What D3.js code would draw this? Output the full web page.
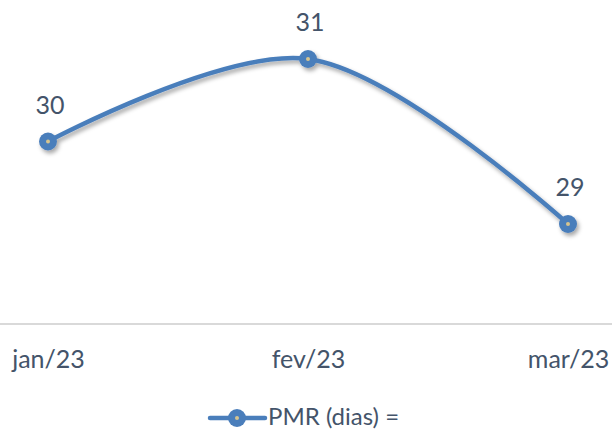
<!DOCTYPE html>
<html>
<head>
<meta charset="utf-8">
<script src="https://cdn.jsdelivr.net/npm/d3@7"></script>
<style>
  html, body { margin: 0; padding: 0; background: #fff; }
  svg { display: block; }
  text { font-family: Lato, "Open Sans", sans-serif; fill: #44546a; }
</style>
</head>
<body>
<svg id="chart" width="612" height="431"></svg>
<script>
// PMR (prazo médio de recebimento), em dias
const categories = ["jan/23", "fev/23", "mar/23"];
const pmrValues = [30, 31, 29];
const seriesName = "PMR (dias) =";

const W = 612, H = 431;
const lineColor = "#4a7ebb";

const svg = d3.select("#chart");

const defs = svg.append("defs");
const shadow = defs.append("filter").attr("id", "shadow")
  .attr("x", "-30%").attr("y", "-30%").attr("width", "160%").attr("height", "160%");
shadow.append("feDropShadow")
  .attr("dx", 2).attr("dy", 3).attr("stdDeviation", 2.2)
  .attr("flood-color", "#000").attr("flood-opacity", 0.35);

const x = d3.scalePoint().domain(categories).range([48, 568]);
const y = d3.scaleLinear().domain([29, 31]).range([224, 59]);
const baseY = 324;

// category axis baseline
svg.append("line")
  .attr("x1", 0).attr("x2", W)
  .attr("y1", baseY).attr("y2", baseY)
  .attr("stroke", "#d9d9d9").attr("stroke-width", 2);

const xAxis = svg.append("g").attr("transform", `translate(0,${baseY})`)
  .call(d3.axisBottom(x).tickSize(0).tickPadding(0));
xAxis.select(".domain").remove();
xAxis.selectAll("text")
  .attr("y", 44).attr("dy", null)
  .style("font-size", "25px")
  .style("fill", "#44546a")
  .style("font-family", "Lato, 'Open Sans', sans-serif");

const data = categories.map((c, i) => ({ c, v: pmrValues[i] }));

const line = d3.line()
  .x(d => x(d.c))
  .y(d => y(d.v))
  .curve(d3.curveCatmullRom.alpha(0.5));

const plot = svg.append("g").attr("filter", "url(#shadow)");
plot.append("path")
  .datum(data)
  .attr("d", line)
  .attr("fill", "none")
  .attr("stroke", lineColor)
  .attr("stroke-width", 4.5)
  .attr("stroke-linecap", "round");

const pts = plot.selectAll("g.pt").data(data).join("g").attr("class", "pt")
  .attr("transform", d => `translate(${x(d.c)},${y(d.v)})`);
pts.append("circle").attr("r", 9).attr("fill", lineColor);
pts.append("circle").attr("r", 2).attr("fill", "#d6c48e");

// data labels
svg.selectAll("text.lbl").data(data).join("text").attr("class", "lbl")
  .attr("x", d => x(d.c) + 2)
  .attr("y", d => y(d.v) - 28)
  .attr("text-anchor", "middle")
  .style("font-size", "25px")
  .text(d => d.v);

// legend
const lg = svg.append("g").attr("transform", "translate(210,418)");
lg.append("line").attr("x1", 0).attr("x2", 55).attr("y1", 0).attr("y2", 0)
  .attr("stroke", lineColor).attr("stroke-width", 4.5).attr("stroke-linecap", "round");
lg.append("circle").attr("cx", 27).attr("r", 9).attr("fill", lineColor);
lg.append("circle").attr("cx", 27).attr("r", 2).attr("fill", "#d6c48e");
lg.append("text").attr("x", 58).attr("y", 7)
  .style("font-size", "24px")
  .text(seriesName);
</script>
</body>
</html>
